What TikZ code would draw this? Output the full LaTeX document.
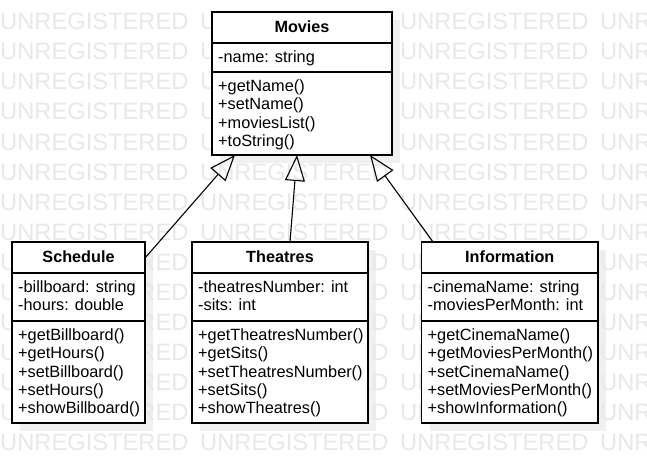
\documentclass[tikz,border=0pt]{standalone}
\usepackage{fontspec}
\setmainfont{Liberation Sans}
\usetikzlibrary{arrows.meta}
\tikzset{
  umlbox/.style={draw=black, line width=1.1pt, fill=white, inner sep=0pt, outer sep=0pt, anchor=north west},
  boxshadow/.style={fill=black!6, draw=none},
  sepline/.style={draw=black, line width=1.1pt},
  ctitle/.style={font=\fontsize{16.2}{18.3}\selectfont\bfseries, anchor=base, inner sep=0pt},
  member/.style={font=\fontsize{16.3}{18.3}\selectfont, anchor=base west, inner sep=0pt},
  wmark/.style={font=\fontsize{23.7}{24}\selectfont, text=black!9, anchor=base west, inner sep=0pt},
  inherit/.style={line width=1.1pt, -{Triangle[open, length=26pt, width=20pt]}}
}
\begin{document}
\begin{tikzpicture}[x=1pt,y=-1pt]
\useasboundingbox (0,0) rectangle (647,473);
\begin{scope}
\clip (0,0) rectangle (647,473);
% shadows
\fill[boxshadow] (220,20) rectangle (400,163);
\fill[boxshadow] (20,250) rectangle (153,431);
\fill[boxshadow] (200,250) rectangle (376,431);
\fill[boxshadow] (429.5,250) rectangle (606,431);
% watermark
\foreach \r in {0,...,14}{
  \foreach \c in {0,...,3}{
    \node[wmark] (wm-\r-\c) at ({200*\c}, {30+30*\r}) {UNREGISTERED};
  }
}
\end{scope}

% Movies
\node[umlbox, minimum width=180pt, minimum height=143pt] (movies) at (212,12) {};
\draw[sepline] ([yshift=-31pt]movies.north west) -- ([yshift=-31pt]movies.north east);
\draw[sepline] ([yshift=-60pt]movies.north west) -- ([yshift=-60pt]movies.north east);
\node[ctitle] (movies-t) at (302,32.8) {Movies};
\node[member] (movies-a0) at (218,62.5) {-name: string};
\foreach \t [count=\i from 0] in {+getName(), +setName(), +moviesList(), +toString()}{
  \node[member] (movies-o\i) at (218,{91.5+18.3*\i}) {\t};
}

% Schedule
\node[umlbox, minimum width=133pt, minimum height=181pt] (schedule) at (12,242) {};
\draw[sepline] ([yshift=-31pt]schedule.north west) -- ([yshift=-31pt]schedule.north east);
\draw[sepline] ([yshift=-79pt]schedule.north west) -- ([yshift=-79pt]schedule.north east);
\node[ctitle] (schedule-t) at (78.5,262.8) {Schedule};
\foreach \t [count=\i from 0] in {-billboard: string, -hours: double}{
  \node[member] (schedule-a\i) at (18,{292+18.3*\i}) {\t};
}
\foreach \t [count=\i from 0] in {+getBillboard(), +getHours(), +setBillboard(), +setHours(), +showBillboard()}{
  \node[member] (schedule-o\i) at (18,{340.5+18.3*\i}) {\t};
}

% Theatres
\node[umlbox, minimum width=176pt, minimum height=181pt] (theatres) at (192,242) {};
\draw[sepline] ([yshift=-31pt]theatres.north west) -- ([yshift=-31pt]theatres.north east);
\draw[sepline] ([yshift=-79pt]theatres.north west) -- ([yshift=-79pt]theatres.north east);
\node[ctitle] (theatres-t) at (280,262.8) {Theatres};
\foreach \t [count=\i from 0] in {-theatresNumber: int, -sits: int}{
  \node[member] (theatres-a\i) at (198,{292+18.3*\i}) {\t};
}
\foreach \t [count=\i from 0] in {+getTheatresNumber(), +getSits(), +setTheatresNumber(), +setSits(), +showTheatres()}{
  \node[member] (theatres-o\i) at (198,{340.5+18.3*\i}) {\t};
}

% Information
\node[umlbox, minimum width=176.5pt, minimum height=181pt] (information) at (421.5,242) {};
\draw[sepline] ([yshift=-31pt]information.north west) -- ([yshift=-31pt]information.north east);
\draw[sepline] ([yshift=-79pt]information.north west) -- ([yshift=-79pt]information.north east);
\node[ctitle] (information-t) at (509.75,262.8) {Information};
\foreach \t [count=\i from 0] in {-cinemaName: string, -moviesPerMonth: int}{
  \node[member] (information-a\i) at (427.5,{292+18.3*\i}) {\t};
}
\foreach \t [count=\i from 0] in {+getCinemaName(), +getMoviesPerMonth(), +setCinemaName(), +setMoviesPerMonth(), +showInformation()}{
  \node[member] (information-o\i) at (427.5,{340.5+18.3*\i}) {\t};
}

% generalisations
\coordinate (sch-end) at ([yshift=-16pt]schedule.north east);
\coordinate (th-end) at ([xshift=10pt]theatres.north);
\coordinate (inf-end) at ([xshift=11.5pt]information.north west);
\coordinate (mv-l) at ([xshift=23pt]movies.south west);
\coordinate (mv-m) at ([xshift=-5pt]movies.south);
\coordinate (mv-r) at ([xshift=-22pt]movies.south east);
\draw[inherit] (sch-end) -- (mv-l);
\draw[inherit] (th-end) -- (mv-m);
\draw[inherit] (inf-end) -- (mv-r);
\end{tikzpicture}
\end{document}
